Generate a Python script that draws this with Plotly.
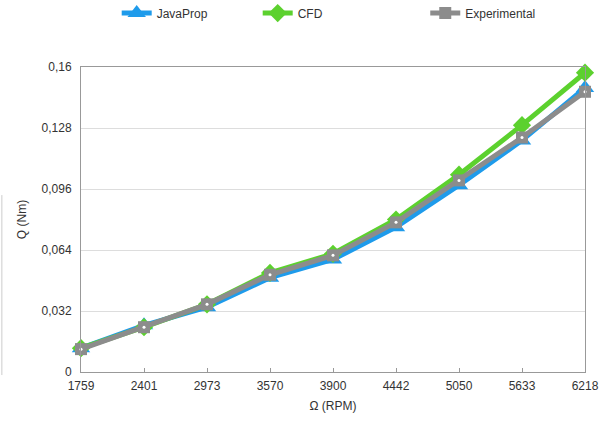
import plotly.graph_objects as go

rpm = ["1759", "2401", "2973", "3570", "3900", "4442", "5050", "5633", "6218"]
javaprop = [0.0125, 0.0245, 0.0340, 0.0495, 0.0590, 0.0760, 0.0980, 0.1215, 0.1490]
cfd = [0.0125, 0.0235, 0.0355, 0.0520, 0.0620, 0.0800, 0.1035, 0.1295, 0.1570]
experimental = [0.0120, 0.0235, 0.0355, 0.0510, 0.0612, 0.0785, 0.1005, 0.1230, 0.1470]
ytick_vals = [0, 0.032, 0.064, 0.096, 0.128, 0.16]
ytick_text = ["0", "0,032", "0,064", "0,096", "0,128", "0,16"]

idx = list(range(len(rpm)))
fig = go.Figure()
fig.add_trace(go.Scatter(x=idx, y=javaprop, name="JavaProp", mode="lines+markers",
                         line=dict(color="#1E9BEB", width=5),
                         marker=dict(symbol="triangle-up", size=16, color="#1E9BEB"),
                         cliponaxis=False, legend="legend"))
fig.add_trace(go.Scatter(x=idx, y=cfd, name="CFD", mode="lines+markers",
                         line=dict(color="#5CD12E", width=5),
                         marker=dict(symbol="diamond", size=14, color="#5CD12E"),
                         cliponaxis=False, legend="legend"))
fig.add_trace(go.Scatter(x=idx, y=experimental, name="Experimental", mode="lines+markers",
                         line=dict(color="#8C8C8C", width=5),
                         marker=dict(symbol="square", size=12, color="#8C8C8C"),
                         cliponaxis=False, legend="legend2"))
fig.add_trace(go.Scatter(x=idx, y=experimental, mode="markers", showlegend=False,
                         marker=dict(symbol="circle", size=3, color="white"),
                         cliponaxis=False, hoverinfo="skip"))

fig.update_layout(
    width=611, height=421,
    margin=dict(l=81, r=26, t=67, b=49, autoexpand=False),
    plot_bgcolor="white", paper_bgcolor="white",
    font=dict(family="Liberation Sans, Arial, sans-serif", size=12, color="#333333"),
    legend=dict(orientation="h", xref="container", yref="container",
                x=0.191, y=0.969, xanchor="left", yanchor="middle",
                entrywidth=96, font=dict(size=12, color="#333333"), bgcolor="rgba(0,0,0,0)"),
    legend2=dict(orientation="h", xref="container", yref="container",
                 x=0.696, y=0.969, xanchor="left", yanchor="middle",
                 font=dict(size=12, color="#333333"), bgcolor="rgba(0,0,0,0)"),
    xaxis=dict(range=[0, 8], tickmode="array", tickvals=idx, ticktext=rpm,
               showgrid=False, zeroline=False, showline=True, linecolor="#999999",
               linewidth=1, mirror=True, ticks="inside", ticklen=4, tickcolor="#999999",
               automargin=False, ticklabelstandoff=3,
               title=dict(text="Ω (RPM)", standoff=9, font=dict(size=12)),
               tickfont=dict(size=12)),
    yaxis=dict(range=[0, 0.16], tickmode="array", tickvals=ytick_vals, ticktext=ytick_text,
               showgrid=True, gridcolor="#DDDDDD", zeroline=False, showline=True,
               linecolor="#999999", linewidth=1, mirror=True, ticks="",
               automargin=False, ticklabelstandoff=6,
               title=dict(text="Q (Nm)", standoff=12, font=dict(size=12)),
               tickfont=dict(size=12)),
    shapes=[dict(type="line", xref="paper", yref="paper", x0=-0.157, x1=-0.157,
                 y0=0.58, y1=-0.01, line=dict(color="#CCCCCC", width=1))],
)

fig.write_html("out.html", config={"displayModeBar": False},
               post_script="document.body.style.margin='0';")
